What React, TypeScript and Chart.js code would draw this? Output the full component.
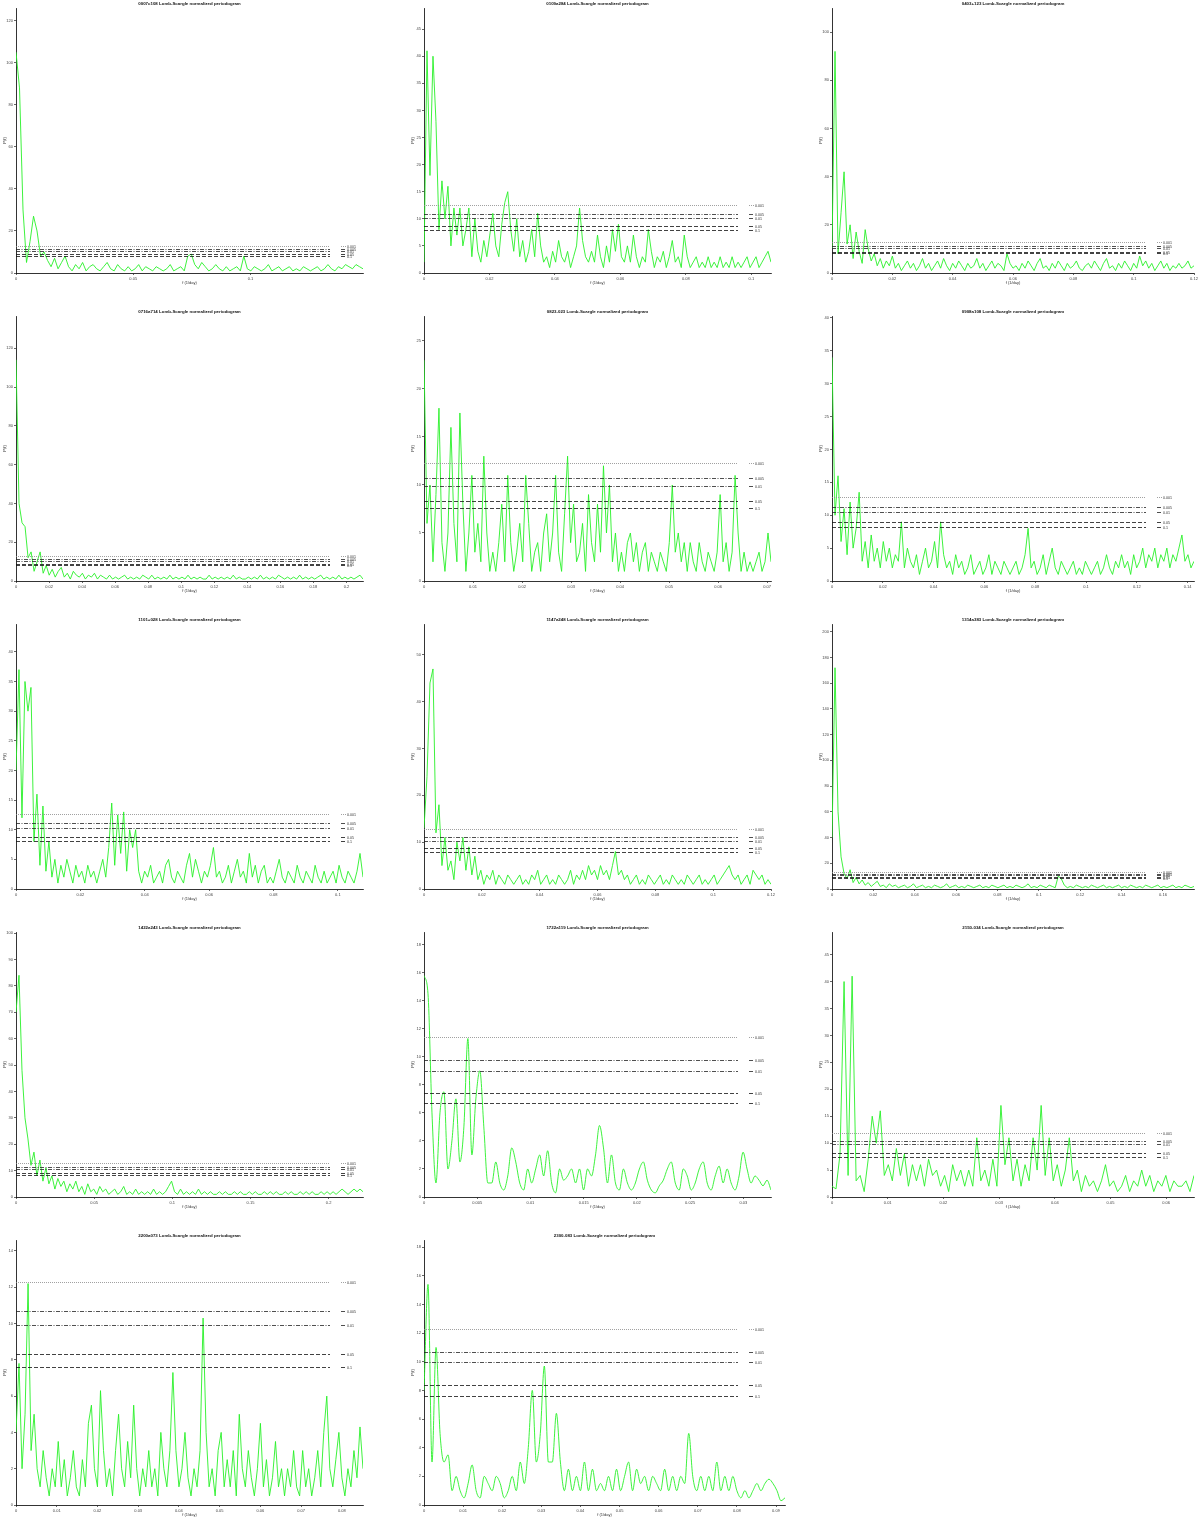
import React, { useEffect, useRef } from "react";
import { Chart, registerables } from "chart.js";

Chart.register(...registerables);

// ---------- data ----------
const titles = [
  "0007c108", "0109a284", "0403+123",
  "0716a714", "0823-023", "0908a108",
  "1101+028", "1147a248", "1314a383",
  "1422a243", "1722a119", "2150-034",
  "2200a073", "2300-083",
];

const freqMax = [0.148, 0.106, 0.12, 0.21, 0.0708, 0.1425, 0.1078, 0.12, 0.175, 0.222, 0.0326, 0.065, 0.0852, 0.0923];
const freqTickStep = [0.05, 0.02, 0.02, 0.02, 0.01, 0.02, 0.02, 0.02, 0.02, 0.05, 0.005, 0.01, 0.01, 0.01];
const powerMax = [126, 48.9, 110, 136.6, 27.6, 40.3, 44.7, 56.6, 206, 100.4, 18.9, 49.2, 14.6, 18.5];
const powerTickStep = [20, 5, 20, 20, 5, 5, 5, 10, 20, 10, 2, 5, 2, 2];

const falseAlarmLabels = ["0.001", "0.005", "0.01", "0.05", "0.1"];
const falseAlarmLevels = [
  [12.9, 11.3, 10.6, 9.0, 8.2],
  [12.5, 10.9, 10.1, 8.7, 7.9],
  [12.8, 11.2, 10.5, 8.9, 8.2],
  [12.9, 11.3, 10.5, 9.0, 8.2],
  [12.3, 10.7, 9.9, 8.3, 7.6],
  [12.8, 11.3, 10.5, 9.0, 8.2],
  [12.6, 11.1, 10.3, 8.8, 8.1],
  [12.8, 11.1, 10.3, 8.8, 7.9],
  [13.2, 11.6, 10.9, 9.3, 8.6],
  [13.0, 11.4, 10.7, 9.1, 8.4],
  [11.4, 9.8, 9.0, 7.4, 6.7],
  [11.9, 10.4, 9.8, 8.2, 7.4],
  [12.3, 10.7, 9.9, 8.3, 7.6],
  [12.3, 10.7, 10.0, 8.4, 7.6],
];

const p01 = [105,88,30,5,15,27,20,8,10,6,3,7,2,5,8,3,1,4,2,5,1,3,4,2,1,3,5,2,1,4,2,1,3,1,2,4,1,3,2,1,3,2,1,2,4,1,2,3,1,8,9,4,2,5,3,1,2,4,2,1,3,1,2,3,1,8,2,1,3,2,1,2,4,1,2,3,1,2,3,1,2,1,3,2,1,2,3,1,2,4,2,1,3,2,4,3,2,4,3,2];
const p02 = [2,41,18,40,28,8,17,10,16,5,12,7,12,5,8,12,3,10,4,2,6,3,7,11,5,3,9,13,15,8,4,10,3,6,2,4,8,3,11,5,2,3,1,4,2,6,3,2,4,1,3,5,12,6,3,2,4,2,7,3,1,5,2,8,4,9,3,2,5,2,7,3,1,3,2,8,4,1,3,2,4,1,3,6,2,3,1,7,3,1,2,3,1,2,1,3,1,2,1,3,1,2,1,3,1,2,1,2,3,1,2,3,1,2,3,4,2];
const p03 = [10,92,8,25,42,12,20,6,17,9,4,18,10,5,8,3,6,2,5,3,7,2,4,1,3,5,2,4,1,3,6,2,4,1,3,5,2,6,3,1,4,2,5,3,1,4,2,3,6,2,4,1,3,5,2,4,3,1,8,4,2,3,1,4,2,5,3,1,4,6,2,3,1,4,2,5,3,1,4,2,3,5,2,1,3,4,2,5,3,1,4,6,2,3,1,4,2,5,3,1,4,2,7,3,5,2,4,1,3,5,2,4,1,3,2,4,2,3,5,2,3];
const p04 = [114,40,30,28,12,15,5,10,15,4,8,3,6,2,5,7,2,4,1,5,3,2,4,1,3,2,4,1,3,2,1,3,1,2,1,2,3,1,2,1,2,1,3,2,1,3,1,2,1,2,1,3,1,2,1,2,1,3,1,2,1,2,1,1,3,1,2,1,2,1,2,1,3,1,2,1,1,2,1,2,1,3,1,2,1,2,1,3,2,1,2,1,2,1,3,1,2,1,2,1,2,3,1,2,1,2,1,3,1,2,1,2,1,2,3,1];
const p05 = [23,6,10,2,9,18,4,1,5,16,6,2,17.5,8,1,5,11,3,6,2,13,5,1,3,1,4,8,2,11,4,1,3,6,2,11,6,1,3,4,1,5,7,2,5,11,3,1,7,13,4,8,2,3,6,1,9,4,2,8,3,12,5,10,2,5,1,3,1,4,5,2,4,1,3,4,1,3,2,1,3,2,1,4,10,3,5,2,4,1,4,2,1,4,2,1,3,2,1,3,9,2,4,1,3,11,5,1,3,1,2,1,2,3,1,2,5,2];
const p06 = [34,10,16,6,11,4,12,5,8,13.5,3,6,2,7,3,5,2,6,3,5,2,4,3,9,2,5,3,2,4,1,3,5,2,3,6,2,9,4,2,3,1,4,2,3,1,2,4,1,2,3,1,2,4,1,3,2,1,3,2,1,2,3,1,2,4,8,2,3,1,2,4,1,3,5,2,1,3,2,1,2,3,1,2,1,3,2,1,2,3,1,2,4,2,1,3,2,4,2,3,1,4,2,3,5,2,4,3,5,2,4,3,5,2,4,3,5,7,3,4,2,3];
const p07 = [20,37,12,35,30,34,8,16,4,14,3,8,2,5,1,4,2,5,3,1,4,2,3,1,4,2,3,1,3,5,2,7,14.5,4,12.5,6,13,3,10,7,10,3,1,3,2,4,1,2,3,1,4,5,2,1,3,2,1,4,6,2,5,3,1,3,2,4,7,2,3,1,2,4,1,3,5,2,3,1,6,2,4,1,3,4,1,2,1,3,5,2,1,3,2,1,4,2,1,3,2,1,4,2,1,3,1,2,3,1,4,2,1,3,2,1,3,6,2];
const p08 = [13,24,44,47,12,18,5,11,4,6,2,10,6,11,4,9,3,7,2,4,1,3,2,4,1,3,2,1,3,2,1,2,3,1,2,1,3,2,4,1,2,3,1,2,1,3,2,1,2,4,1,3,2,4,2,5,3,4,2,5,3,4,2,5,8,3,4,2,3,1,2,3,1,2,1,3,2,1,2,3,1,2,1,3,2,1,2,1,3,2,1,2,3,1,2,1,2,3,1,2,3,4,5,3,2,3,1,2,3,1,4,3,2,3,1,2,1];
const p09 = [40,172,60,25,12,8,15,5,9,4,7,3,5,2,4,6,2,3,1,4,2,3,1,2,3,1,2,4,1,2,3,1,2,1,3,2,1,2,4,1,2,3,1,2,1,3,2,1,2,3,1,2,1,3,2,1,2,3,1,2,1,3,2,1,2,4,1,2,1,3,2,1,3,2,1,10,8,3,1,2,1,3,2,1,2,1,3,2,1,2,3,1,2,1,2,3,1,2,1,3,2,1,2,1,3,2,1,2,3,1,2,1,2,3,1,2,1,3,2,1,2];
const p10 = [70,84,48,30,22,12,17,8,14,6,11,5,8,3,7,4,6,2,5,3,6,2,4,1,5,2,3,1,4,2,3,1,2,3,1,2,4,1,2,1,3,1,2,1,2,1,3,1,2,1,2,4,6,2,1,3,1,2,1,2,1,3,1,2,1,2,1,1,2,1,2,1,1,2,1,2,1,1,2,1,2,1,1,2,1,2,1,2,1,1,2,1,2,1,1,2,1,2,1,2,1,1,2,1,2,1,2,1,2,3,2,1,2,3,2,3,2];
const p11 = [15.8,14.5,6,1,6,7.5,2,4,7,2.5,5,11.3,3,7,9,5,1,1,2.5,1,0.5,1.5,3.5,2.5,1,0.5,2,1,2,3,1.5,3.3,1,0.3,2,1.2,1.5,2,1,2,0.5,2,1.5,3,5.1,3.5,1,3,1,0.5,2,1,0.5,1,2,2.5,1.2,0.5,0.3,0.8,1.2,2,2.5,1,0.5,2,1.5,0.5,1,2,2.5,1,0.5,1.5,2.2,1,2,1,0.5,1.5,3.2,2,1,1.5,1.2,0.8,1.2,0.5];
const p12 = [2,1.5,8,40,4,41,3,4,1,7,15,10,16,4,6,3,9,4,8,2,6,3,6,2,7,4,5,2,4,1,6,3,5,2,5,2,11,3,5,2,7,2,17,6,11,3,7,2,6,3,11,5,17,4,11,3,6,2,5,11,3,5,1,4,2,3,1,3,6,2,3,1,2,4,1,3,2,5,2,4,1,3,2,4,1,3,2,2,3,1,4];
const p13 = [4,7.8,2,5,12.2,3,5,2,1,3,1.5,0.5,2,1,3.5,1,2.5,0.5,1.5,3,1,0.5,2.5,1,4.5,5.5,2,1,6.3,3,1,2,0.5,3,5,2,1,3.5,1.5,5.5,2,0.5,2,1,3,1,2,0.5,4,2,1,3,7.3,3,1,2,4,1.5,0.5,2,1,3,10.3,4,1,2,0.5,3,4,1,2.5,1,3,0.5,5,2,1,3,1.5,0.5,2,4.5,1,2.5,0.5,1.5,3.5,1,2,0.5,2,1,3,1,0.5,3,1,2,0.5,1.5,3,1,4,6,2,1,2.5,4,1.5,0.5,2,1,3,1.5,4.3,2];
const p14 = [8,15.4,3,11,5,3,3.5,1,2,1,0.5,1.5,2.8,1,0.5,2,1.5,1,2,1.5,0.5,1,2,1,3,1.5,4,8,3,5,9.7,3,3,6.4,3,1,2.5,1,2,1,3,1,2.5,1,1.5,1,2,1,2.5,1,2,3,1,2.5,1.5,2,1,2,1.5,1,2.5,1,2,1,2,1.5,5,2,1,2,1,2,1,3,1,2,1,2,1,0.5,1,0.5,1,1.5,1,1.5,1.8,1.5,1,0.3,0.5];

const powers = [p01, p02, p03, p04, p05, p06, p07, p08, p09, p10, p11, p12, p13, p14];
const smoothPanels = [10, 13];

// ---------- layout ----------
const COL_LEFT = [16, 424, 832];
const ROW_TOP = [8, 316, 624, 932, 1240];
const PLOT_H = 265;
const PLOT_W = [347, 347, 362, 347, 347, 362, 347, 347, 362, 347, 347, 362, 347, 361];
const AXIS_GAP = 16;
const CANVAS_H = 289;
const SIG_LEN = 314;
const FONT = "'Liberation Sans', Arial, sans-serif";

const sigStyles = [
  { dash: [1, 1], color: "#8a8a8a" },
  { dash: [4, 1.5, 1, 1.5], color: "#222" },
  { dash: [4, 1.5, 1, 1.5], color: "#222" },
  { dash: [4, 2], color: "#111" },
  { dash: [4, 2], color: "#111" },
];

const fmt = (v: number) => String(Number(Number(v).toFixed(6)));

function Panel({ idx }: { idx: number }) {
  const ref = useRef<HTMLCanvasElement>(null);
  const col = idx % 3;
  const row = Math.floor(idx / 3);
  const canvasLeft = COL_LEFT[col] - AXIS_GAP;
  const canvasTop = ROW_TOP[row] - 8;
  const canvasW = col === 2 ? 1200 - canvasLeft : 408;
  const padRight = canvasW - AXIS_GAP - PLOT_W[idx];

  useEffect(() => {
    const vals = powers[idx];
    const n = vals.length;
    const xm = freqMax[idx];
    const data = vals.map((v, i) => ({ x: (i * xm) / (n - 1), y: v }));
    const levels = falseAlarmLevels[idx];

    const decor = {
      id: "decor" + idx,
      afterDatasetsDraw(chart: any) {
        const { ctx, chartArea, scales } = chart;
        const ys = scales.y;
        ctx.save();
        // significance lines
        levels.forEach((lv: number, k: number) => {
          const y = Math.round(ys.getPixelForValue(lv)) + 0.5;
          const st = sigStyles[k];
          ctx.strokeStyle = st.color;
          ctx.lineWidth = 0.8;
          ctx.setLineDash(st.dash);
          ctx.beginPath();
          ctx.moveTo(chartArea.left, y);
          ctx.lineTo(chartArea.left + SIG_LEN, y);
          ctx.stroke();
          ctx.beginPath();
          ctx.moveTo(chartArea.left + 325, y);
          ctx.lineTo(chartArea.left + 330, y);
          ctx.stroke();
          ctx.setLineDash([]);
          ctx.fillStyle = "#333";
          ctx.font = `3.6px ${FONT}`;
          ctx.textAlign = "left";
          ctx.textBaseline = "middle";
          ctx.fillText(falseAlarmLabels[k], chartArea.left + 331, y);
        });
        ctx.restore();
      },
      afterDraw(chart: any) {
        const { ctx, chartArea } = chart;
        const cx = (chartArea.left + chartArea.right) / 2;
        ctx.save();
        ctx.fillStyle = "#111";
        ctx.textAlign = "center";
        ctx.textBaseline = "middle";
        ctx.font = `bold 4.4px ${FONT}`;
        ctx.fillText(titles[idx] + " Lomb-Scargle normalized periodogram", cx, 4);
        ctx.font = `4px ${FONT}`;
        ctx.fillStyle = "#333";
        ctx.fillText("f (1/day)", cx, chartArea.bottom + 10);
        ctx.translate(5, (chartArea.top + chartArea.bottom) / 2);
        ctx.rotate(-Math.PI / 2);
        ctx.fillText("P(f)", 0, 0);
        ctx.restore();
      },
    };

    const tickFont = { size: 4, family: FONT };
    const chart = new Chart(ref.current as HTMLCanvasElement, {
      type: "line",
      data: {
        datasets: [
          {
            data,
            borderColor: "rgb(40,240,40)",
            borderWidth: 0.9,
            pointRadius: 0,
            fill: false,
            tension: 0,
            cubicInterpolationMode: smoothPanels.includes(idx) ? "monotone" : "default",
          },
        ],
      },
      options: {
        responsive: false,
        animation: false,
        devicePixelRatio: 1,
        parsing: false,
        normalized: true,
        layout: { padding: { left: 0, top: 8, right: padRight, bottom: 0 } },
        plugins: { legend: { display: false }, tooltip: { enabled: false }, title: { display: false } },
        scales: {
          x: {
            type: "linear",
            min: 0,
            max: xm,
            afterFit: (s: any) => {
              s.height = CANVAS_H - 8 - PLOT_H;
            },
            grid: { display: true, drawOnChartArea: false, tickLength: 2, color: "#000", lineWidth: 0.6 },
            border: { display: true, color: "#000", width: 0.8 },
            ticks: {
              stepSize: freqTickStep[idx],
              includeBounds: false,
              autoSkip: false,
              maxRotation: 0,
              padding: 1,
              color: "#444",
              font: tickFont,
              callback: (v: any) => fmt(v),
            },
          },
          y: {
            type: "linear",
            min: 0,
            max: powerMax[idx],
            afterFit: (s: any) => {
              s.width = AXIS_GAP;
            },
            grid: { display: true, drawOnChartArea: false, tickLength: 2, color: "#000", lineWidth: 0.6 },
            border: { display: true, color: "#000", width: 0.8 },
            ticks: {
              stepSize: powerTickStep[idx],
              includeBounds: false,
              autoSkip: false,
              padding: 1,
              color: "#444",
              font: tickFont,
              callback: (v: any) => fmt(v),
            },
          },
        },
      },
      plugins: [decor],
    } as any);
    return () => chart.destroy();
  }, [idx]);

  return (
    <canvas
      ref={ref}
      width={canvasW}
      height={CANVAS_H}
      style={{ position: "absolute", left: canvasLeft, top: canvasTop, width: canvasW, height: CANVAS_H }}
    />
  );
}

export default function App() {
  return (
    <div
      style={{
        position: "absolute",
        left: 0,
        top: 0,
        width: 1200,
        height: 1519,
        overflow: "hidden",
        background: "#fff",
      }}
    >
      {titles.map((_, i) => (
        <Panel key={i} idx={i} />
      ))}
    </div>
  );
}
